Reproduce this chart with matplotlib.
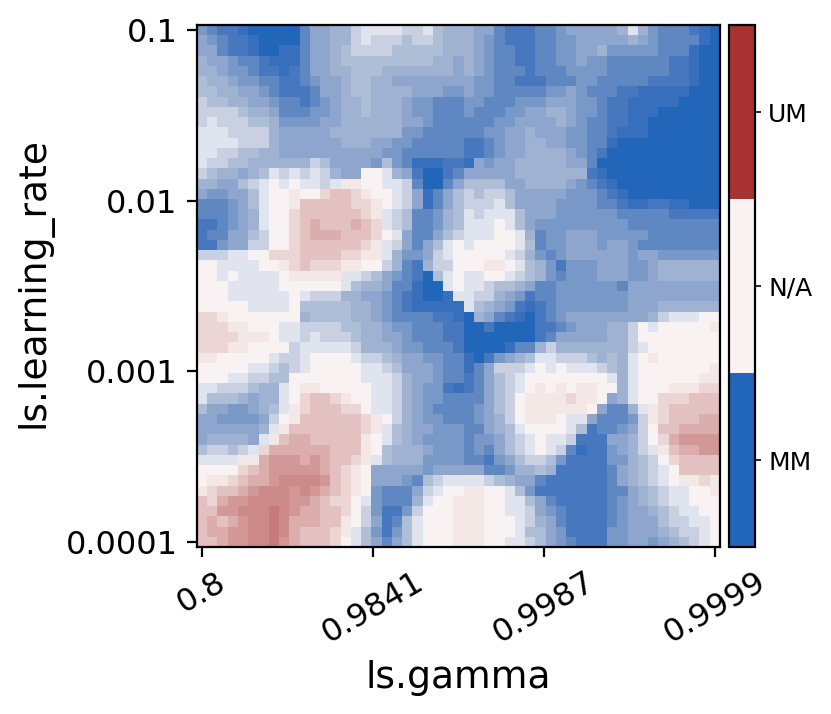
import numpy as np
import matplotlib
matplotlib.use('Agg')
import matplotlib.pyplot as plt
from matplotlib.colors import LinearSegmentedColormap, ListedColormap, BoundaryNorm, Normalize
from matplotlib.cm import ScalarMappable

# each char is one heatmap cell, 0 = -1.0 (MM) ... a = 0.0 (N/A) ... h = +0.62
levels = {'0': -1.0, '1': -0.9, '2': -0.8, '3': -0.7, '4': -0.6, '5': -0.5, '6': -0.4,
          '7': -0.3, '8': -0.2, '9': -0.1, 'a': 0.0, 'b': 0.06, 'c': 0.15, 'd': 0.26,
          'e': 0.36, 'f': 0.47, 'g': 0.54, 'h': 0.62}

# top row first, columns 0-25
left_rows = [
    "43221000003556689999889766", "54322100003556689888788766", "55322100113556788887777766",
    "65543321113556777777777665", "66544322123556677766666665", "76654433223455677665555555",
    "77665543222355677666655544", "87766554332345667666544333", "88887665333445667666544333",
    "89888776444455666666554333", "99988886555556666666443333", "99998886555555666554433333",
    "99887766555555555544333333", "98877666666875555474311122", "8766567989898655aa96520023",
    "6655789a9a9989bbaa99830035", "5445579aabaacddcbaa9851357", "3334579aabdddddccba9851357",
    "3334569aacddddddcb98733467", "2234569aacdedddedc98733467", "2335578aacdeeedddca9533578",
    "2245588aacddddddcb9853579a", "88899aacccddddccbb9644589a", "aa9999aabcdcccbbaa8632688a",
    "aa9a9999abbbbb99875432079a", "aaa99999aaaaaa97665331009a", "aaa999999a9888665543210019",
    "aaaaa9999a7777766543211111", "ccbaaaaaaa6777766543333221", "cccbbaaa998888776654433322",
    "ccccbbba998988876655433322", "cccbbaaaa89999986665443332", "bbaaaaa9889aaaa98876554433",
    "aaaaa998789aaaaa9987555433", "aaa998877aaaaaaa9998655433", "998887669abbaaaaa998654421",
    "977765669acddcbaa998654433", "755445679bcdddcca998654333", "55444458abddddddcba8654433",
    "55555569bdddddddcb97655444", "5666659bdeedddddba97654444", "788789ceeeeeedddba76665444",
    "9999bbefffefeddcb976664444", "aaaacdefffffedcba555554555", "abbcdeefggggfdcba555437899",
    "bcddefgggfgfedcba4333589aa", "dceffggggffedcca9433369aab", "ddffggghgfeeddca842248aaab",
    "dedefgghgeeeddba852379aaab", "deeffgghgedddcb9742479aaab", "ddeffgghfedddca9753579aaab",
]

# same rows, columns 26-50
right_rows = [
    "6553222334555556964333210", "6543222334455555654333310", "6543322334455644444333100",
    "6543322334454433333322100", "6543332333444433333322100", "5443322233344333332222100",
    "5443333344543332211111000", "4433344455544322111110000", "4333445566544322111000000",
    "3334455556543322110000000", "3344556555443321110000000", "2234556655443310000000000",
    "2234556666543200000000000", "1545566666553000000000000", "5555566666662100000000000",
    "7777556666543210000000000", "8788755555444321000000000", "8889755554444332112211000",
    "9899975554444443333322222", "999a975444444444333333333",
    "999aa96344555444443333333", "9aaaa97344555455433333333", "aaaa986434555555455444444",
    "aabba97642444555445666666", "99aa987643444555445666666",
    "998776533444444355555555" "5", "9886542334444444555555555",
    "9765421234444444555666666", "06532102345555555568999aa",
    "00200002234555668a9aaaaab", "00000002355555668aaaaaaaa", "000013368666666689aaaaaaa",
    "10245679988876769abaaaaaa", "1358889a9a9998769aaaaaaab", "235789aaaaaaaa969aaaaaabb",
    "235789abababbaa69aaabbbcc", "33578abbbbcbba569aacccddd",
    "34578abbbbbba53369bcddddd", "34568abbba99533348bcdddee", "335679aaaa97233458addeeee",
    "3445789a9982225568aceffff", "3435789a98312245689bdeeff", "3324578874222244678acdddd",
    "55334667622222356789adddd", "99876553222222356789abbcb", "bbaa974222222233567899aab",
    "bbaa997532222234567899aaa", "bbaa9985432222345567899aa", "bbaaa9865322223455578899a",
    "bbaaa9775422224455567889a", "bbaa99875432224455456789a",
]

x_ticklabels = ['0.8', '0.9841', '0.9987', '0.9999']
y_ticklabels = ['0.0001', '0.001', '0.01', '0.1']
cbar_labels = ['MM', 'N/A', 'UM']

rows = [l + r for l, r in zip(left_rows, right_rows)]
bad = [(i, len(r)) for i, r in enumerate(rows) if len(r) != 51]
if bad or len(rows) != 51:
    raise ValueError(bad)
grid = np.array([[levels[c] for c in r] for r in rows])

blue = '#2166b9'
white = '#f9f4f3'
red = '#a83232'
# mid blues are greyer than a straight blue-white ramp
ramp = ['#2166b9', '#3a70bd', '#4878c0', '#6089c4', '#7898c8', '#8ea6cd',
        '#a0b3d2', '#b0bfd8', '#c8d0e2', '#e0e4ee', white]
nodes = [(i * 0.05, c) for i, c in enumerate(ramp)] + [(1.0, red)]
cmap = LinearSegmentedColormap.from_list('mm_um', nodes)

W, H = 831, 714
fig = plt.figure(figsize=(W / 200, H / 200), dpi=200)
ax = fig.add_axes([197 / W, 1 - 547 / H, (720 - 197) / W, (547 - 25) / H])
ax.imshow(grid, cmap=cmap, norm=Normalize(-1, 1), aspect='auto', interpolation='nearest')

ax.set_xticks(np.linspace(0, 50, 4))
ax.set_xticklabels(x_ticklabels, rotation=30, fontsize=11.5)
ax.set_yticks(np.linspace(50, 0, 4))
ax.set_yticklabels(y_ticklabels, fontsize=11.5)
ax.set_xlabel('ls.gamma', fontsize=13.6, labelpad=4)
ax.set_ylabel('ls.learning_rate', fontsize=13.6, labelpad=4.7, y=0.507)

cax = fig.add_axes([729 / W, 1 - 547 / H, (755 - 729) / W, (547 - 25) / H])
cb = fig.colorbar(ScalarMappable(BoundaryNorm([0, 1, 2, 3], 3), ListedColormap([blue, white, red])),
                  cax=cax, ticks=[0.5, 1.5, 2.5])
cb.ax.set_yticklabels(cbar_labels, fontsize=9)
cb.ax.tick_params(length=2, width=0.6, pad=2.8)
cb.ax.minorticks_off()

fig.savefig('out.png', dpi=200)
